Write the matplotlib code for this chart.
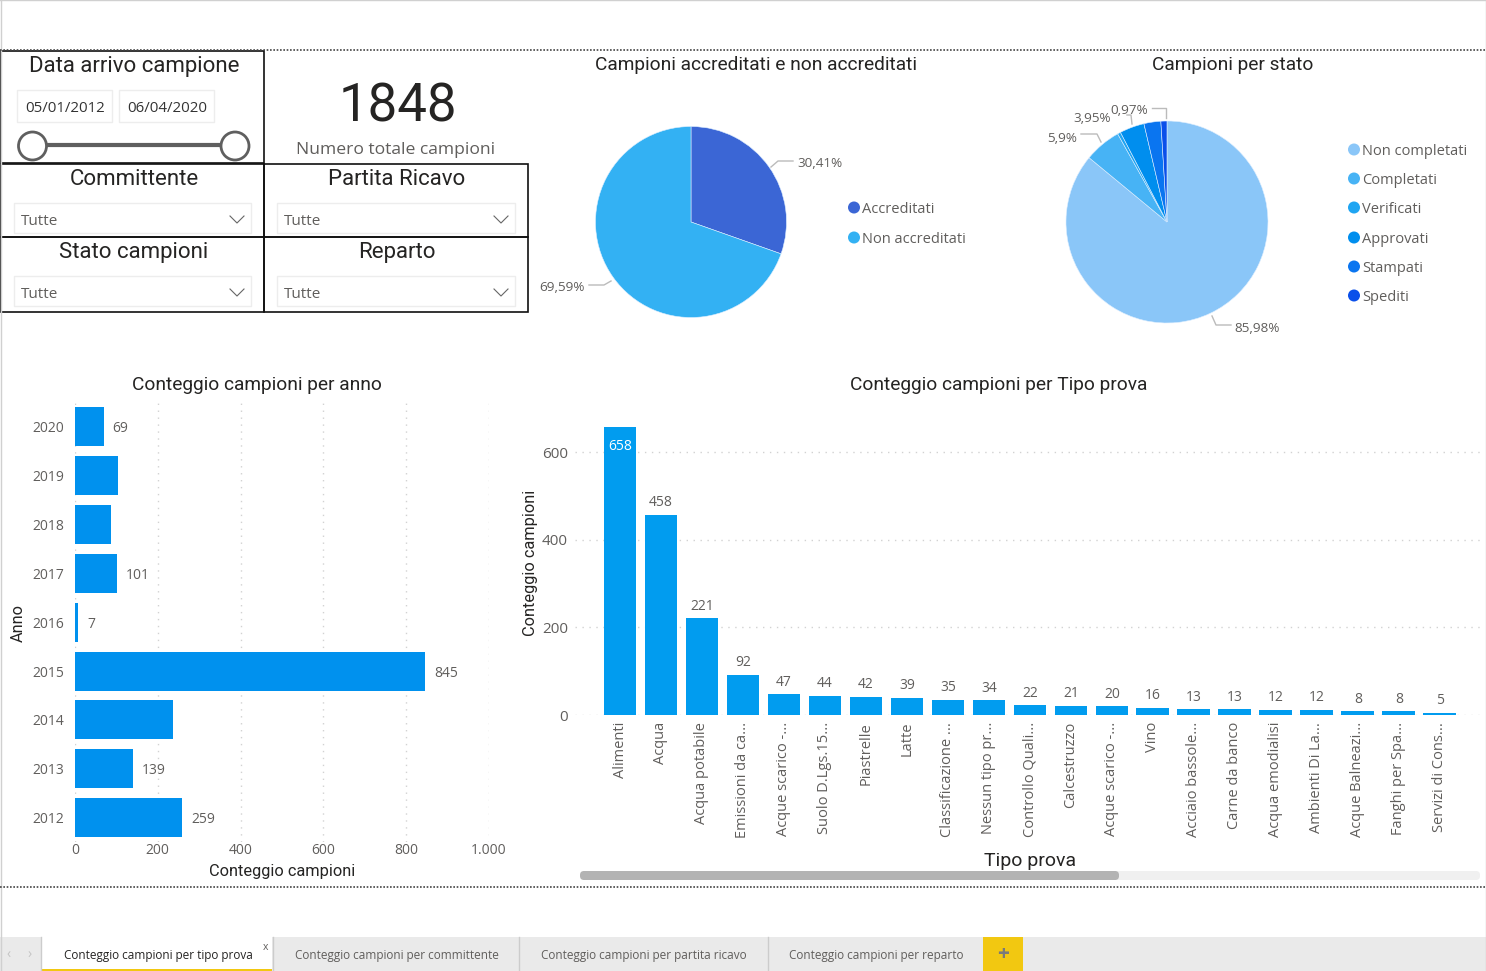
import matplotlib
matplotlib.use("Agg")
import matplotlib.pyplot as plt
from matplotlib.patches import Rectangle, Circle, FancyBboxPatch

# ── Data ─────────────────────────────────────────────────────────────
years = ["2020", "2019", "2018", "2017", "2016", "2015", "2014", "2013", "2012"]
year_counts = [69, 103, 87, 101, 7, 845, 237, 139, 259]
year_unlabelled = ["2019", "2018", "2014"]

test_types = ["Alimenti", "Acqua", "Acqua potabile", "Emissioni da ca...", "Acque scarico -...",
              "Suolo D.Lgs.15...", "Piastrelle", "Latte", "Classificazione ...", "Nessun tipo pr...",
              "Controllo Quali...", "Calcestruzzo", "Acque scarico -...", "Vino", "Acciaio bassole...",
              "Carne da banco", "Acqua emodialisi", "Ambienti Di La...", "Acque Balneazi...",
              "Fanghi per Spa...", "Servizi di Cons..."]
test_counts = [658, 458, 221, 92, 47, 44, 42, 39, 35, 34, 22, 21, 20, 16, 13, 13, 12, 12, 8, 8, 5]

accred_labels = ["Accreditati", "Non accreditati"]
accred_values = [30.41, 69.59]
accred_colors = ["#3B66D5", "#33B1F3"]

state_labels = ["Non completati", "Completati", "Verificati", "Approvati", "Stampati", "Spediti"]
state_values = [85.98, 5.9, 0.5, 3.95, 2.7, 0.97]
state_colors = ["#8AC6F8", "#47B3F5", "#1FA5F2", "#008EEE", "#0A75F0", "#0A4FEA"]

tabs = ["Conteggio campioni per tipo prova", "Conteggio campioni per committente",
        "Conteggio campioni per partita ricavo", "Conteggio campioni per reparto"]

W, H = 1486, 971
TITLE = "Roboto"
BODY = "Open Sans"
DARK = "#252423"
GREY = "#605E5C"
GRID = "#D2D2D2"

fig = plt.figure(figsize=(W / 100, H / 100), dpi=100, facecolor="white")


def px_axes(x0, y0, x1, y1, **kw):
    return fig.add_axes([x0 / W, 1 - y1 / H, (x1 - x0) / W, (y1 - y0) / H], **kw)


# page overlay in pixel coordinates, for the report chrome
page = px_axes(0, 0, W, H, zorder=0)
page.set_xlim(0, W)
page.set_ylim(H, 0)
page.axis("off")


def txt(x, y, s, size=10, color=DARK, ha="center", family=BODY, **kw):
    # va=center sits a little high compared to the reference
    page.text(x, y + 1.5, s, fontsize=size, color=color, ha=ha, va="center", family=family, **kw)


# ── Page frame ───────────────────────────────────────────────────────
page.plot([0.5, 0.5], [0, H], color="#D0D0D0", lw=1)
page.plot([W - 0.5, W - 0.5], [0, H], color="#D0D0D0", lw=1)
page.plot([0, W], [0.5, 0.5], color="#D0D0D0", lw=1)
for y in (50.5, 887.5):
    page.plot([0, W], [y, y], color="#444444", lw=1.2, ls=(0, (1, 1)))

# ── Slicers ──────────────────────────────────────────────────────────
for x0, y0, x1, y1 in [(1, 51.5, 264, 163.5), (1, 164.5, 264, 237.5), (264, 164.5, 528, 237.5),
                       (1, 237.5, 264, 312.5), (264, 237.5, 528, 312.5)]:
    page.add_patch(Rectangle((x0, y0), x1 - x0, y1 - y0, fill=False, ec="#111111", lw=1.2))

txt(134, 65, "Data arrivo campione", 16, family=TITLE)
for x0, x1, s in [(17, 112, "05/01/2012"), (119, 214, "06/04/2020")]:
    page.add_patch(Rectangle((x0, 90), x1 - x0, 32, fc="white", ec="#EDEDED", lw=1))
    txt((x0 + x1) / 2 + 1, 106.5, s, 10.8, color="#333333")
page.plot([32, 235], [145.5, 145.5], color="#5F5F5F", lw=3, solid_capstyle="butt")
for x in (32.5, 235):
    page.add_patch(Circle((x, 146), 14, fc="white", ec="#5F5F5F", lw=2, zorder=3))

for cx, cy, s, x0, x1 in [(134, 178, "Committente", 14, 251), (397, 178, "Partita Ricavo", 277, 515),
                          (134, 251, "Stato campioni", 14, 251), (397, 251, "Reparto", 277, 515)]:
    txt(cx, cy, s, 16, family=TITLE)
    page.add_patch(Rectangle((x0, cy + 25), x1 - x0, 30, fc="white", ec="#EDEDED", lw=1))
    txt(x0 + 7, cy + 42, "Tutte", 11, color=GREY, ha="left")
    page.plot([x1 - 21, x1 - 14, x1 - 7], [cy + 38, cy + 45, cy + 38], color="#666666", lw=0.8)

# ── KPI card ─────────────────────────────────────────────────────────
txt(398, 105, "1848", 38, family=TITLE)
txt(396, 148, "Numero totale campioni", 12.6, color=GREY)


# ── Pies ─────────────────────────────────────────────────────────────
def draw_pie(cx, cy, r, values, colors):
    ax = px_axes(cx - r, cy - r, cx + r, cy + r, zorder=1)
    ax.pie(values, colors=colors, startangle=90, counterclock=False, radius=1,
           wedgeprops={"linewidth": 0.4, "edgecolor": "#DDEEFF"})
    ax.set_xlim(-1, 1)
    ax.set_ylim(-1, 1)
    ax.set_aspect("auto")
    return ax


def draw_legend(x, ys, labels, colors):
    for y, s, c in zip(ys, labels, colors):
        page.add_patch(Circle((x, y), 6, fc=c, ec="none"))
        txt(x + 8, y + 0.5, s, 10.5, color=GREY, ha="left")


txt(756, 63, "Campioni accreditati e non accreditati", 13.75, family=TITLE)
draw_pie(691, 222, 95.5, accred_values, accred_colors)
draw_legend(854, [207.5, 237.5], accred_labels, accred_colors)
txt(797, 162, "30,41%", 9.7, color=GREY, ha="left")
page.plot([771, 778, 793], [167, 161, 161], color="#BBBBBB", lw=1)
txt(585, 286, "69,59%", 9.7, color=GREY, ha="right")
page.plot([589, 604, 611], [285, 285, 281], color="#BBBBBB", lw=1)

txt(1233, 63, "Campioni per stato", 13.75, family=TITLE)
draw_pie(1167, 222, 101, state_values, state_colors)
draw_legend(1354, [149.5, 178.5, 207.5, 237.5, 266.5, 295.5], state_labels, state_colors)
txt(1234, 326.5, "85,98%", 9.7, color=GREY, ha="left")
page.plot([1212, 1216, 1231], [316, 325, 325], color="#BBBBBB", lw=1)
txt(1047, 136.5, "5,9%", 9.7, color=GREY, ha="left")
page.plot([1081, 1097, 1101], [134, 134, 142], color="#BBBBBB", lw=1)
txt(1073, 116.5, "3,95%", 9.7, color=GREY, ha="left")
page.plot([1127, 1131, 1132], [115, 115, 124], color="#BBBBBB", lw=1)
txt(1110, 109.5, "0,97%", 9.7, color=GREY, ha="left")
page.plot([1152, 1166, 1166], [108, 108, 118], color="#BBBBBB", lw=1)

# ── Conteggio campioni per anno ──────────────────────────────────────
txt(257, 383, "Conteggio campioni per anno", 13.75, family=TITLE)
ax = px_axes(75, 402.5, 489, 842)
ax.barh(years, year_counts, height=0.8, color="#0091EE")
ax.set_ylim(8.5, -0.5)
ax.set_xlim(0, 1000)
ax.set_xticks(range(0, 1001, 200), ["0", "200", "400", "600", "800", "1.000"])
ax.tick_params(length=0, labelsize=10, labelcolor=GREY)
ax.tick_params(axis="x", pad=0.7)
ax.tick_params(axis="y", pad=8)
for label in ax.get_xticklabels() + ax.get_yticklabels():
    label.set_family(BODY)
ax.xaxis.grid(True, color=GRID, ls=(0, (1, 4)), lw=1)
ax.set_axisbelow(True)
for spine in ax.spines.values():
    spine.set_visible(False)
ax.patch.set_alpha(0)
for i, (year, count) in enumerate(zip(years, year_counts)):
    if year not in year_unlabelled:
        ax.annotate(str(count), (count, i), xytext=(9, -2), textcoords="offset pixels",
                    va="center", fontsize=10, color=GREY, family=BODY)
txt(282, 870, "Conteggio campioni", 11.8, family=TITLE)
txt(18, 621, "Anno", 11.8, family=TITLE, rotation=90)

# ── Conteggio campioni per Tipo prova ────────────────────────────────
txt(999, 383, "Conteggio campioni per Tipo prova", 13.75, family=TITLE)
ax2 = px_axes(575, 408, 1480, 715)
positions = range(len(test_types))
ax2.bar(positions, test_counts, width=0.8, color="#019CEF")
ax2.set_xlim(-1.098, 20.98)
ax2.set_ylim(0, 701.7)
ax2.set_yticks([0, 200, 400, 600], ["0", "200", "400", "600"])
ax2.set_xticks(list(positions), test_types, rotation=90)
ax2.tick_params(length=0, colors=GREY, labelsize=11)
ax2.tick_params(axis="x", pad=5, labelsize=10.5)
ax2.tick_params(axis="y", pad=5)
for label in ax2.get_xticklabels() + ax2.get_yticklabels():
    label.set_family(BODY)
ax2.yaxis.grid(True, color=GRID, ls=(0, (1, 4)), lw=1)
ax2.set_axisbelow(True)
for spine in ax2.spines.values():
    spine.set_visible(False)
ax2.patch.set_alpha(0)
for i, count in enumerate(test_counts):
    if i == 0:
        ax2.annotate(str(count), (i, count), xytext=(0, -19), textcoords="offset pixels",
                     ha="center", va="center", fontsize=10, color="white", family=BODY)
    else:
        ax2.annotate(str(count), (i, count), xytext=(0, 12), textcoords="offset pixels",
                     ha="center", va="center", fontsize=10, color=GREY, family=BODY)
txt(1030, 860, "Tipo prova", 14, family=TITLE)
txt(530, 561, "Conteggio campioni", 11.8, family=TITLE, rotation=90)

# scrollbar
page.add_patch(FancyBboxPatch((584, 871), 896, 9, boxstyle="round,pad=0,rounding_size=4",
                              fc="#F0F0F0", ec="none"))
page.add_patch(FancyBboxPatch((580, 871), 539, 9, boxstyle="round,pad=0,rounding_size=4",
                              fc="#B3B3B3", ec="none"))

# ── Tab bar ──────────────────────────────────────────────────────────
page.add_patch(Rectangle((0, 937), W, 34, fc="#EAEAEA", ec="none"))
page.add_patch(Rectangle((41, 937), 231, 34, fc="white", ec="none"))
page.add_patch(Rectangle((41, 969), 231, 2, fc="#F2C811", ec="none"))
for x in (40.5, 272.5, 518.5, 767.5):
    page.plot([x, x], [937, 971], color="#CCCCCC", lw=1)
for cx, s, c in zip([158, 397, 644, 876], tabs, [DARK, GREY, GREY, GREY]):
    txt(cx, 953.5, s, 8.5, color=c)
txt(265.5, 945.5, "x", 7.5, color=GREY)
txt(9, 953.5, "‹", 10, color="#C4C4C4")
txt(30, 953.5, "›", 10, color="#C4C4C4")
page.add_patch(Rectangle((983, 937), 40, 34, fc="#F2C811", ec="none"))
txt(1003.5, 953.5, "+", 15, color="#7A7A7A", fontweight="bold")

fig.savefig("out.png", dpi=100)
